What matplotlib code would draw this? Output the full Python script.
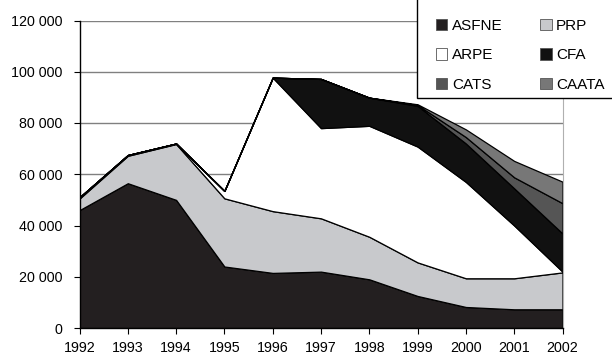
import matplotlib
matplotlib.use("Agg")
import matplotlib.pyplot as plt
from matplotlib.patches import Rectangle
from matplotlib.ticker import FuncFormatter

plt.rcParams["font.family"] = ["Liberation Sans", "DejaVu Sans"]

years = [1992, 1993, 1994, 1995, 1996, 1997, 1998, 1999, 2000, 2001, 2002]
series_names = ["ASFNE", "PRP", "ARPE", "CFA", "CATS", "CAATA"]

asfne = [46000, 56500, 50000, 24000, 21500, 22000, 19000, 12500, 8200, 7300, 7300]
prp = [4500, 10700, 21800, 26600, 24100, 20800, 16600, 13100, 11200, 12100, 14400]
arpe = [500, 300, 200, 2900, 52100, 35200, 43300, 45200, 37600, 20600, 300]
cfa = [0, 0, 0, 0, 0, 19200, 11000, 15900, 15000, 14500, 14900]
cats = [0, 0, 0, 0, 0, 0, 0, 300, 2500, 4300, 11800]
caata = [0, 0, 0, 0, 0, 0, 0, 300, 3000, 6400, 8400]

colors = ["#231f20", "#c8c9cc", "#ffffff", "#111111", "#555555", "#777777"]

W, H = 612, 356
fig = plt.figure(figsize=(W / 100, H / 100), dpi=100)
ax = fig.add_axes([79.5 / W, 1 - 328 / H, (562.5 - 79.5) / W, (328 - 20.5) / H])

polys = ax.stackplot(years, asfne, prp, arpe, cfa, cats, caata,
                     colors=colors, labels=series_names,
                     edgecolor="black", linewidth=0.9, zorder=2)

ax.set_xlim(1992, 2002)
ax.set_ylim(0, 120000)
ax.set_xticks(years)
ax.set_yticks(range(0, 120001, 20000))
ax.yaxis.set_major_formatter(FuncFormatter(lambda v, p: "{:,}".format(int(v)).replace(",", " ")))
ax.tick_params(axis="both", labelsize=10.3, colors="black", length=4, direction="out")
ax.tick_params(axis="x", pad=5)
ax.tick_params(axis="y", pad=8)
ax.grid(axis="y", color="#808080", linewidth=1.0, zorder=0)
ax.set_axisbelow(True)
ax.spines["top"].set_visible(False)
ax.spines["right"].set_color("#b0b0b0")
ax.spines["left"].set_linewidth(1.0)
ax.spines["bottom"].set_linewidth(1.0)

# legend box, running off the top and right edge like the original
fig.patches.append(Rectangle((417 / W, 1 - 98 / H), 1.0, 1.0, transform=fig.transFigure,
                             facecolor="white", edgecolor="black", linewidth=1.0, zorder=4))

# 3 rows x 2 columns, filled by columns
order = [0, 2, 4, 1, 3, 5]
handles = [polys[i] for i in order]
labels = [series_names[i] for i in order]
leg = fig.legend(handles, labels, ncol=2, loc="upper left",
                 bbox_to_anchor=(436 / W, 1 - 19 / H), frameon=False,
                 fontsize=11, handlelength=0.75, handleheight=0.75, handletextpad=0.3,
                 columnspacing=2.45, labelspacing=1.0, borderpad=0, borderaxespad=0)
leg.set_zorder(5)
for h in leg.legend_handles:
    h.set_edgecolor("#555555")
    h.set_linewidth(0.6)

fig.savefig("out.png", dpi=100)
